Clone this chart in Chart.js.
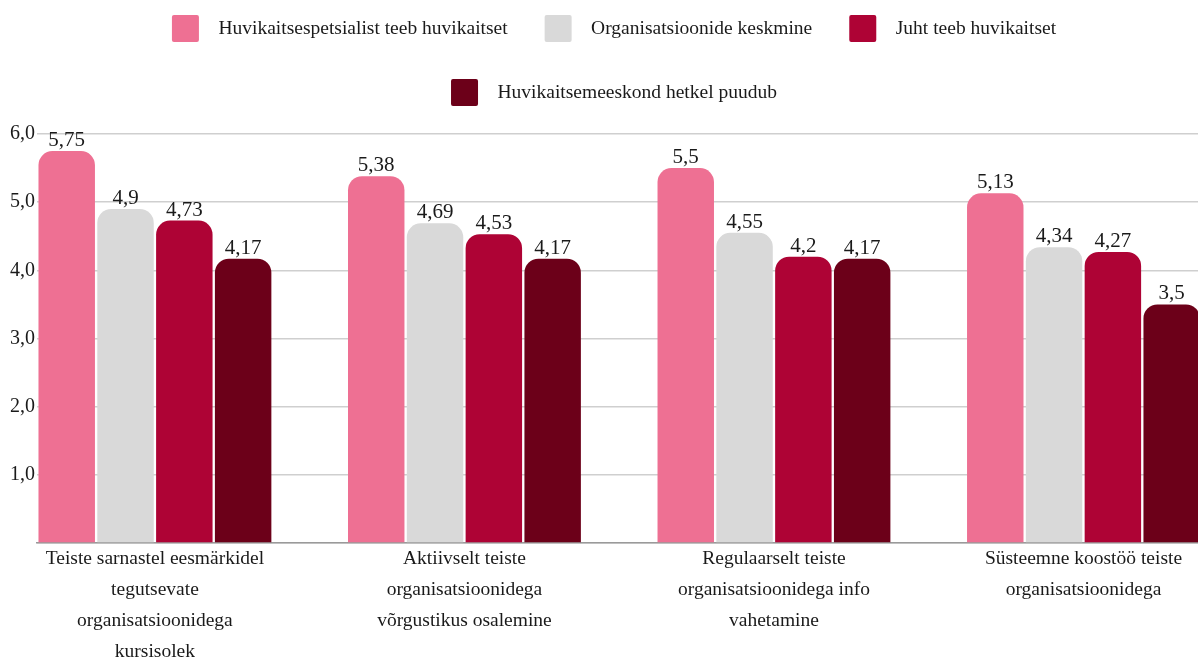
<!DOCTYPE html>
<html>
<head>
    <meta charset="utf-8">
    <title>Huvikaitse koostöö</title>
    <script src="https://cdn.jsdelivr.net/npm/chart.js"></script>
    <style>
        body { margin: 0; background: #fff; overflow: hidden; }
    </style>
</head>
<body>
    <canvas id="koostooChart" width="1198" height="659"></canvas>
    <script>
        // categories (one array per label line)
        const categories = [
            ['Teiste sarnastel eesmärkidel', 'tegutsevate', 'organisatsioonidega', 'kursisolek'],
            ['Aktiivselt teiste', 'organisatsioonidega', 'võrgustikus osalemine'],
            ['Regulaarselt teiste', 'organisatsioonidega info', 'vahetamine'],
            ['Süsteemne koostöö teiste', 'organisatsioonidega']
        ];
        const seriesNames = [
            'Huvikaitsespetsialist teeb huvikaitset',
            'Organisatsioonide keskmine',
            'Juht teeb huvikaitset',
            'Huvikaitsemeeskond hetkel puudub'
        ];
        const spetsialist = [5.75, 5.38, 5.5, 5.13];
        const keskmine = [4.9, 4.69, 4.55, 4.34];
        const juht = [4.73, 4.53, 4.2, 4.27];
        const puudub = [4.17, 4.17, 4.17, 3.5];
        const yTicks = [0, 1, 2, 3, 4, 5, 6];

        const colors = ['#ee7093', '#d9d9d9', '#ae0335', '#6c0019'];
        const serif = '"Liberation Serif", "Times New Roman", serif';

        function fmt(v) {
            return String(v).replace('.', ',');
        }

        // value above every bar
        const valueLabels = {
            id: 'valueLabels',
            afterDatasetsDraw(chart) {
                const ctx = chart.ctx;
                ctx.save();
                ctx.font = '21px ' + serif;
                ctx.fillStyle = '#1a1a1a';
                ctx.textAlign = 'center';
                ctx.textBaseline = 'alphabetic';
                chart.data.datasets.forEach((ds, i) => {
                    chart.getDatasetMeta(i).data.forEach((bar, j) => {
                        ctx.fillText(fmt(ds.data[j].y), bar.x, bar.y - 5);
                    });
                });
                ctx.restore();
            }
        };

        const allSeries = [spetsialist, keskmine, juht, puudub];
        const datasets = allSeries.map((values, i) => ({
            label: seriesNames[i],
            data: values.map((v, j) => ({ x: j, y: v })),
            backgroundColor: colors[i],
            borderRadius: { topLeft: 14, topRight: 14 },
            categoryPercentage: 0.76,
            barPercentage: 0.96
        }));

        Chart.defaults.font.family = serif;
        Chart.defaults.color = '#1a1a1a';

        new Chart(document.getElementById('koostooChart').getContext('2d'), {
            type: 'bar',
            data: { datasets: datasets },
            plugins: [valueLabels],
            options: {
                responsive: false,
                animation: false,
                layout: { padding: { top: -22, left: 0, right: -30, bottom: 0 } },
                plugins: {
                    tooltip: { enabled: false },
                    legend: {
                        position: 'top',
                        labels: {
                            boxWidth: 27,
                            boxHeight: 27,
                            padding: 37,
                            useBorderRadius: true,
                            borderRadius: 2,
                            font: { size: 19.5 },
                            generateLabels: (chart) =>
                                Chart.defaults.plugins.legend.labels.generateLabels(chart)
                                    .map(item => Object.assign(item, { text: '\u2002' + item.text }))
                        }
                    }
                },
                scales: {
                    x: {
                        type: 'linear',
                        offset: false,
                        bounds: 'data',
                        min: -0.381,
                        max: 3.370,
                        afterBuildTicks: (s) => { s.ticks = categories.map((c, i) => ({ value: i })); },
                        afterFit: (s) => { s.height = 116; },
                        grid: { display: false, drawTicks: false, offset: false },
                        border: { display: true, color: '#9a9a9a', width: 1.5 },
                        ticks: {
                            padding: 0,
                            maxRotation: 0,
                            autoSkip: false,
                            font: { size: 19.5, lineHeight: 1.59 },
                            callback: (v) => categories[v]
                        }
                    },
                    y: {
                        bounds: 'data',
                        min: 0,
                        max: 6.264,
                        afterBuildTicks: (s) => { s.ticks = yTicks.map(v => ({ value: v })); },
                        afterFit: (s) => { s.width = 37; },
                        grid: { color: '#cfcfcf', lineWidth: 1.5, drawTicks: false },
                        border: { display: false },
                        ticks: {
                            padding: 2,
                            font: { size: 20 },
                            callback: (v) => v === 0 ? '' : v.toFixed(1).replace('.', ',')
                        }
                    }
                }
            }
        });
    </script>
</body>
</html>
